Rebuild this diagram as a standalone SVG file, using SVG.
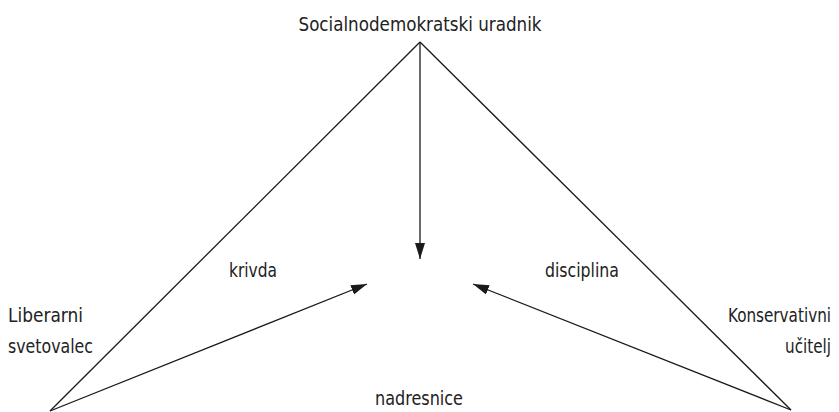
<svg xmlns="http://www.w3.org/2000/svg" width="839" height="412" viewBox="0 0 839 412">
<style>
text{font-family:"DejaVu Sans Condensed","Liberation Sans",sans-serif;font-size:20px;fill:#222}
.e{stroke:#1a1a1a;stroke-width:1.3;fill:none}
</style>
<defs>
<marker id="ah2" viewBox="0 0 16 10" refX="16" refY="5" markerWidth="16" markerHeight="11" markerUnits="userSpaceOnUse" orient="auto">
<path d="M0,0 L16,5 L0,10 Z" fill="#1a1a1a"/>
</marker>
</defs>
<rect width="839" height="412" fill="#fff"/>
<g id="connectors">
<line class="e" x1="420" y1="42" x2="50" y2="411"/>
<line class="e" x1="420" y1="42" x2="791" y2="410"/>
<line class="e" x1="420" y1="42" x2="420" y2="259" marker-end="url(#ah2)"/>
<line class="e" x1="50" y1="411" x2="367" y2="284" marker-end="url(#ah2)"/>
<line class="e" x1="791" y1="410" x2="473" y2="284" marker-end="url(#ah2)"/>
</g>
<g id="n-top"><text x="420" y="31" text-anchor="middle" textLength="243" lengthAdjust="spacingAndGlyphs">Socialnodemokratski uradnik</text></g>
<g id="n-left"><text x="8" y="322" textLength="75" lengthAdjust="spacingAndGlyphs">Liberarni</text><text x="8" y="353" textLength="85" lengthAdjust="spacingAndGlyphs">svetovalec</text></g>
<g id="n-right"><text x="831" y="322" text-anchor="end" textLength="103" lengthAdjust="spacingAndGlyphs">Konservativni</text><text x="831" y="353" text-anchor="end" textLength="46" lengthAdjust="spacingAndGlyphs">učitelj</text></g>
<g id="l-krivda"><text x="229" y="277" textLength="48" lengthAdjust="spacingAndGlyphs">krivda</text></g>
<g id="l-disciplina"><text x="545" y="277" textLength="74" lengthAdjust="spacingAndGlyphs">disciplina</text></g>
<g id="n-bottom"><text x="375" y="405" textLength="88" lengthAdjust="spacingAndGlyphs">nadresnice</text></g>
</svg>
